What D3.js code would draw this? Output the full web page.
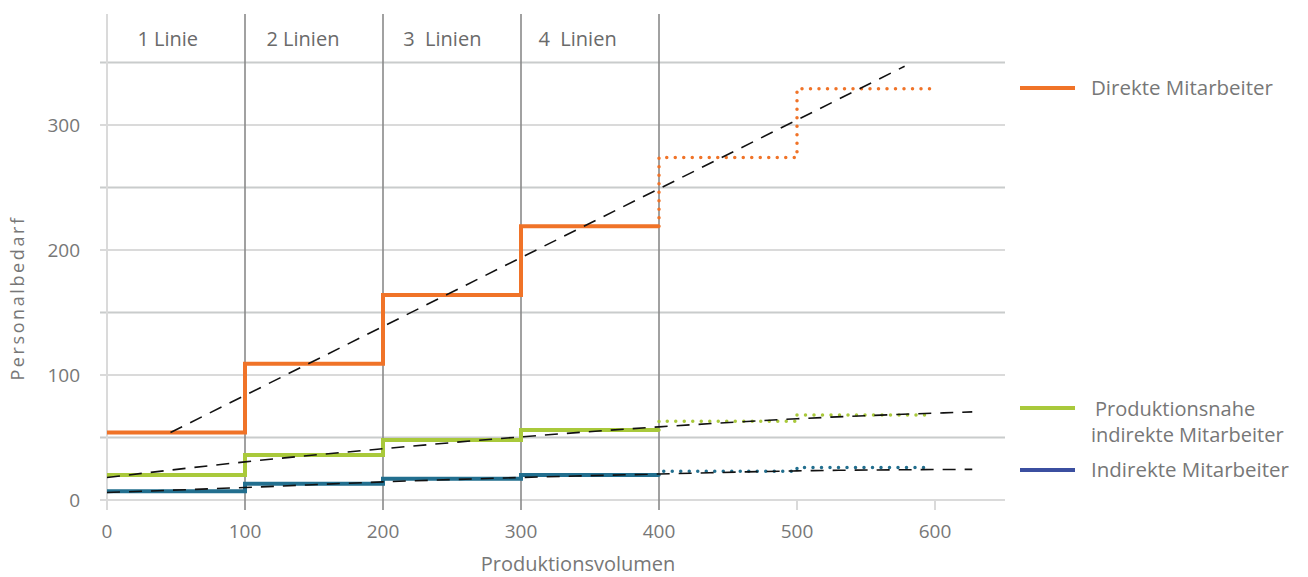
<!DOCTYPE html>
<html><head><meta charset="utf-8">
<script src="https://cdn.jsdelivr.net/npm/d3@7/dist/d3.min.js"></script>
<style>body{margin:0;background:#fff;}svg{display:block;font-family:"Open Sans",sans-serif;}</style>
</head><body><svg id="c" width="1308" height="577"></svg>
<script>
// ---- data ----
const stepX = [0, 100, 200, 300, 400];
const direkteSolid = [54, 109, 164, 219, 219];
const produktionSolid = [20, 36, 48, 56, 56];
const indirekteSolid = [7, 13, 17, 20, 20];
const forecastX = [400, 400, 500, 597];
const direkteForecast = [219, 274, 329, 329];
const produktionForecast = [56, 63, 68, 68];
const indirekteForecast = [20, 23, 26, 26];
const direkteTrendX = [46, 578];
const direkteTrend = [54, 347];
const produktionTrendX = [0, 100, 200, 300, 400, 500, 627];
const produktionTrend = [18, 30.5, 41, 50.5, 58.5, 65, 70.5];
const indirekteTrendX = [0, 100, 200, 300, 400, 500, 627];
const indirekteTrend = [6, 10, 14.5, 18, 20.8, 23.3, 24.5];
const phaseLabels = ["1 Linie", "2 Linien", "3  Linien", "4  Linien"];
const phaseCenters = [44, 42, 43, 41];
const xTicks = [0, 100, 200, 300, 400, 500, 600];
const yTicks = [0, 100, 200, 300];
const gridValues = [0, 50, 100, 150, 200, 250, 300, 350];
const legendNames = ["Direkte Mitarbeiter", "Produktionsnahe|indirekte Mitarbeiter", "Indirekte Mitarbeiter"];
const legendColors = ["#f07328", "#a9c93b", "#3b4fa0"];

const svg = d3.select("#c");
const x = d3.scaleLinear().domain([0, 600]).range([107, 935]);
const y = d3.scaleLinear().domain([0, 300]).range([500, 125]);
const textCol = "#777";

// gridlines
svg.append("g").selectAll("line").data(gridValues).join("line")
  .attr("x1", 100).attr("x2", 1005)
  .attr("y1", d => y(d)).attr("y2", d => y(d))
  .attr("stroke", d => d % 100 === 0 ? "#dadada" : "#c9cccc").attr("stroke-width", 2);

// y axis line
svg.append("line").attr("x1", x(0)).attr("x2", x(0)).attr("y1", 14).attr("y2", 510)
  .attr("stroke", "#dadada").attr("stroke-width", 2);

// x ticks light
svg.append("g").selectAll("line").data([0, 500, 600]).join("line")
  .attr("x1", d => x(d)).attr("x2", d => x(d)).attr("y1", 500).attr("y2", 510)
  .attr("stroke", "#dadada").attr("stroke-width", 2);

// phase separators
svg.append("g").selectAll("line").data([100, 200, 300, 400]).join("line")
  .attr("x1", d => x(d)).attr("x2", d => x(d)).attr("y1", 14).attr("y2", 510)
  .attr("stroke", "#8a8a8a").attr("stroke-width", 1.6);

// phase labels
svg.append("g").selectAll("text").data(phaseLabels).join("text")
  .attr("x", (d, i) => x(i * 100 + phaseCenters[i])).attr("y", 46)
  .attr("text-anchor", "middle").attr("font-size", 20).attr("fill", "#6a6a6a")
  .style("white-space", "pre").text(d => d);

// y tick labels
svg.append("g").selectAll("text").data(yTicks).join("text")
  .attr("x", 80).attr("y", d => y(d) + 7).attr("text-anchor", "end")
  .attr("font-size", 19).attr("fill", textCol).text(d => d);

// x tick labels
svg.append("g").selectAll("text").data(xTicks).join("text")
  .attr("x", d => x(d)).attr("y", 538).attr("text-anchor", "middle")
  .attr("font-size", 19).attr("fill", textCol).text(d => d);

// axis titles
svg.append("text").attr("x", 578).attr("y", 571).attr("text-anchor", "middle")
  .attr("font-size", 20).attr("fill", textCol).text("Produktionsvolumen");
svg.append("text").attr("transform", "translate(24,298) rotate(-90)").attr("text-anchor", "middle")
  .attr("font-size", 18).attr("letter-spacing", 2.6).attr("fill", textCol).text("Personalbedarf");

const step = d3.line().x(d => x(d[0])).y(d => y(d[1])).curve(d3.curveStepAfter);
const smooth = d3.line().x(d => x(d[0])).y(d => y(d[1])).curve(d3.curveMonotoneX);
const zip = (a, b) => a.map((v, i) => [v, b[i]]);

const series = [
  {solid: direkteSolid, fc: direkteForecast, col: "#f07328"},
  {solid: produktionSolid, fc: produktionForecast, col: "#a9c93b"},
  {solid: indirekteSolid, fc: indirekteForecast, col: "#226f8f"}
];
series.forEach(s => {
  svg.append("path").attr("d", step(zip(stepX, s.solid))).attr("fill", "none")
    .attr("stroke", s.col).attr("stroke-width", 4);
  svg.append("path").attr("d", step(zip(forecastX, s.fc))).attr("fill", "none")
    .attr("stroke", s.col).attr("stroke-width", 3.5).attr("stroke-dasharray", "0,8.5")
    .attr("stroke-linecap", "round");
});

// trend lines
[[direkteTrendX, direkteTrend], [produktionTrendX, produktionTrend], [indirekteTrendX, indirekteTrend]]
  .forEach(([xs, vs]) => {
    svg.append("path").attr("d", smooth(zip(xs, vs))).attr("fill", "none")
      .attr("stroke", "#111").attr("stroke-width", 1.6).attr("stroke-dasharray", "13,9");
  });

// legend
const legY = [88, 408, 470];
legendNames.forEach((n, i) => {
  svg.append("line").attr("x1", 1020).attr("x2", 1075).attr("y1", legY[i]).attr("y2", legY[i])
    .attr("stroke", legendColors[i]).attr("stroke-width", 4);
  const lines = n.split("|");
  const t = svg.append("text").attr("font-size", lines.length > 1 ? 20 : 20.5).attr("fill", textCol)
    .attr("y", legY[i] + 7 + (lines.length > 1 ? 1 : 0));
  lines.forEach((s, j) => {
    t.append("tspan").attr("x", 1091 + (lines.length > 1 && j === 0 ? 4 : 0))
      .attr("dy", j === 0 ? 0 : 26).text(s);
  });
});
</script></body></html>
